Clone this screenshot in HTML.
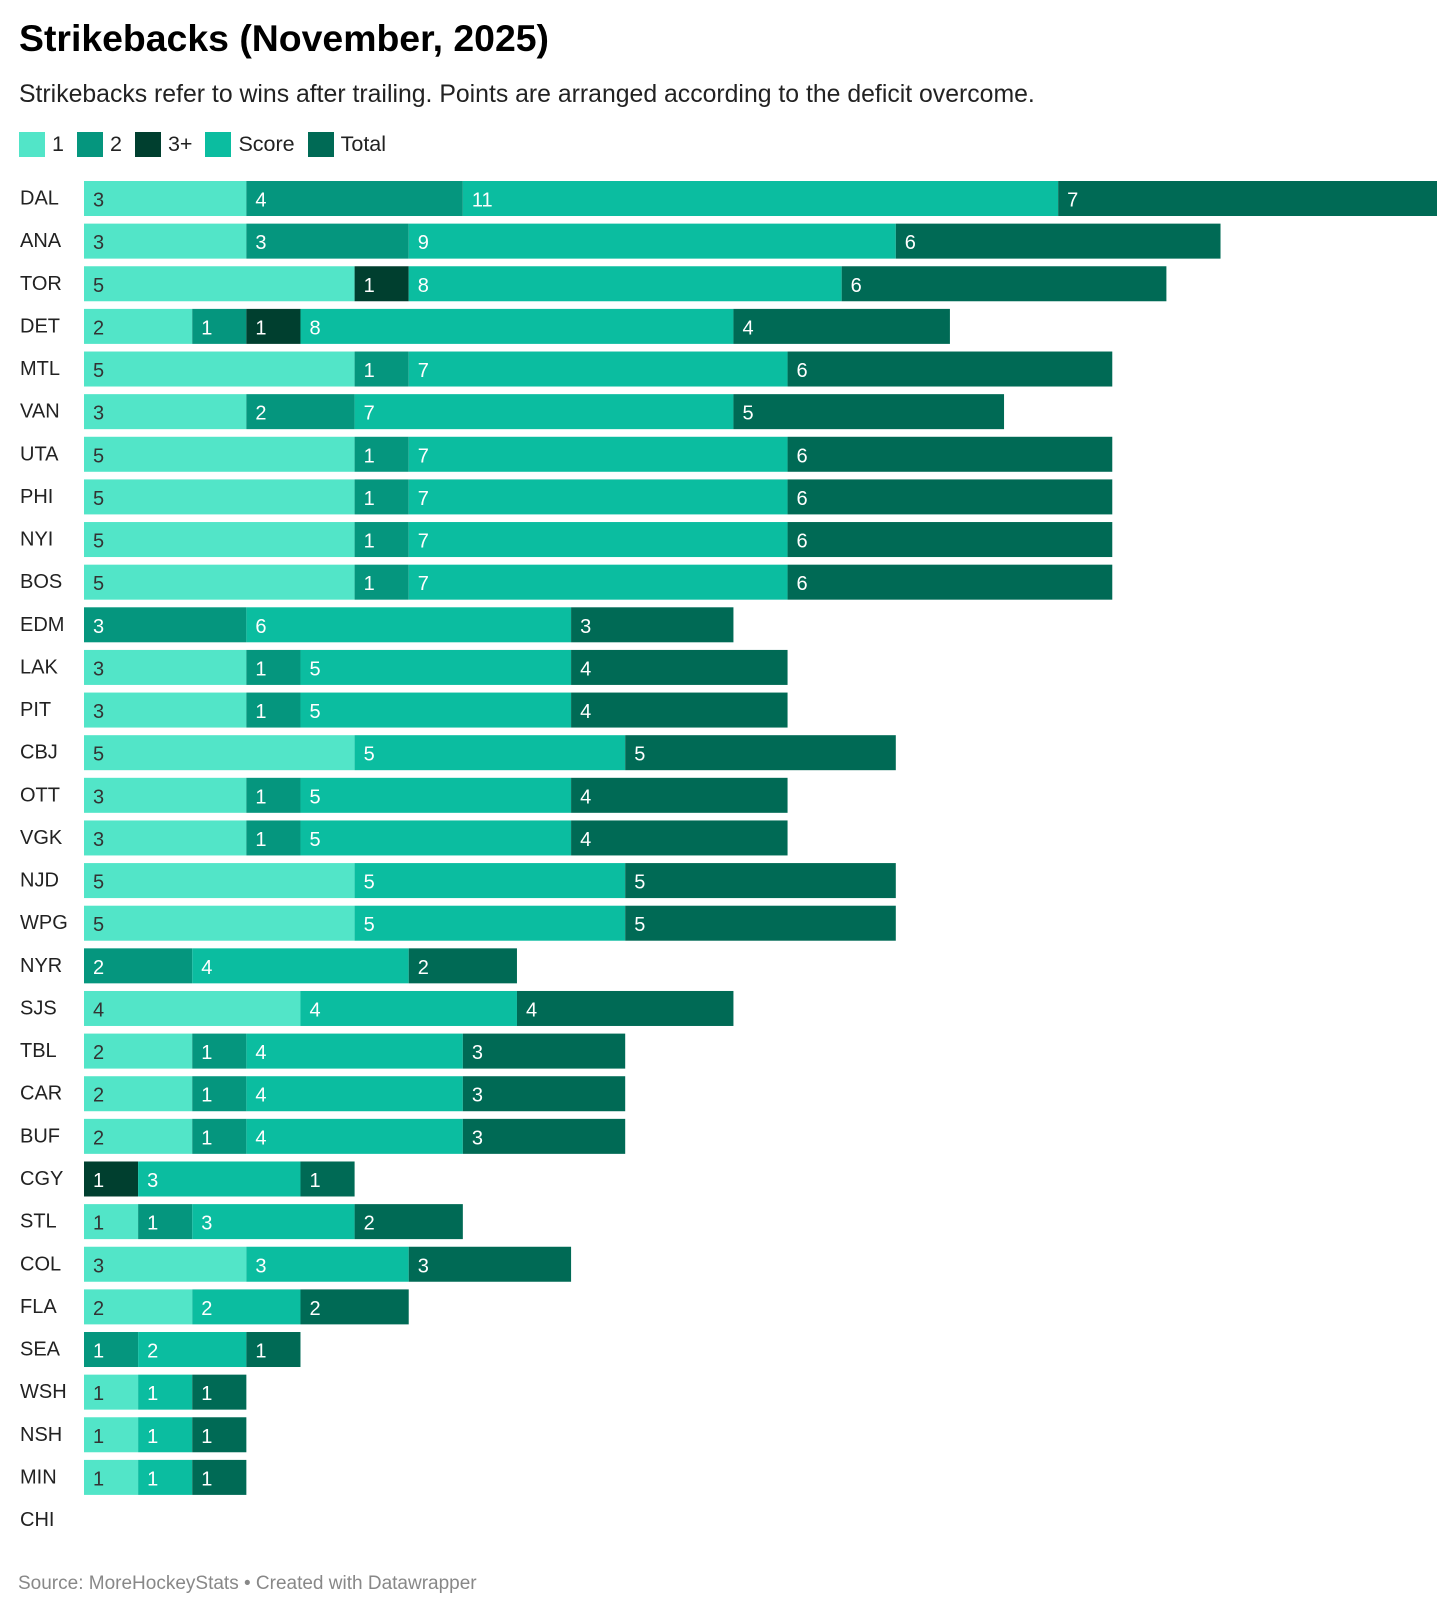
<!DOCTYPE html>
<html><head><meta charset="utf-8">
<style>
body{margin:0;background:#fff;font-family:"Liberation Sans",sans-serif;}
#wrap{position:relative;width:1456px;height:1614px;overflow:hidden;}
.t{position:absolute;white-space:nowrap;}
</style></head><body>
<div id="wrap">
<div class="t" style="left:19px;top:17px;font-size:37.4px;font-weight:bold;color:#000;">Strikebacks (November, 2025)</div>
<div class="t" style="left:19px;top:81px;font-size:24.8px;color:#222;">Strikebacks refer to wins after trailing. Points are arranged according to the deficit overcome.</div>
<div id="legend" style="position:absolute;left:19px;top:131px;height:26px;display:flex;align-items:center;font-size:21.5px;color:#222;"></div>
<svg id="chart" width="1456" height="1560" style="position:absolute;left:0;top:0;"></svg>
<div class="t" style="left:18px;top:1573px;font-size:19px;color:#888;">Source: MoreHockeyStats • Created with Datawrapper</div>
</div>
<script>
const teams=["DAL","ANA","TOR","DET","MTL","VAN","UTA","PHI","NYI","BOS","EDM","LAK","PIT","CBJ","OTT","VGK","NJD","WPG","NYR","SJS","TBL","CAR","BUF","CGY","STL","COL","FLA","SEA","WSH","NSH","MIN","CHI"];
const seriesNames=["1","2","3+","Score","Total"];
const s1=[3,3,5,2,5,3,5,5,5,5,0,3,3,5,3,3,5,5,0,4,2,2,2,0,1,3,2,0,1,1,1,0];
const s2=[4,3,0,1,1,2,1,1,1,1,3,1,1,0,1,1,0,0,2,0,1,1,1,0,1,0,0,1,0,0,0,0];
const s3=[0,0,1,1,0,0,0,0,0,0,0,0,0,0,0,0,0,0,0,0,0,0,0,1,0,0,0,0,0,0,0,0];
const sScore=[11,9,8,8,7,7,7,7,7,7,6,5,5,5,5,5,5,5,4,4,4,4,4,3,3,3,2,2,1,1,1,0];
const sTotal=[7,6,6,4,6,5,6,6,6,6,3,4,4,5,4,4,5,5,2,4,3,3,3,1,2,3,2,1,1,1,1,0];
const colors=["#52e5c8","#05967e","#003f2f","#0bbda0","#006a55"];
const textColors=["#333","#fff","#fff","#fff","#fff"];
const x0=84, unit=54.12, rowTop=181, rowStep=42.63, barH=35;
const xs=v=>v*unit;
const ys=i=>rowTop+i*rowStep;
const NS="http://www.w3.org/2000/svg";
const svg=document.getElementById('chart');
const all=[s1,s2,s3,sScore,sTotal];
teams.forEach((t,i)=>{
  const y=ys(i);
  const lab=document.createElementNS(NS,'text');
  
  
  lab.setAttribute('x',20);lab.setAttribute('y',y+barH/2+6);
  lab.setAttribute('font-size','20');lab.setAttribute('fill','#222');
  lab.setAttribute('font-family','Liberation Sans, sans-serif');
  lab.textContent=t;svg.appendChild(lab);
  let cum=0;
  all.forEach((arr,k)=>{
    const v=arr[i]; if(!v) return;
    const r=document.createElementNS(NS,'rect');
    
    
    r.setAttribute('x',x0+xs(cum));r.setAttribute('y',y);
    r.setAttribute('width',xs(v));r.setAttribute('height',barH);
    r.setAttribute('fill',colors[k]);svg.appendChild(r);
    const tx=document.createElementNS(NS,'text');
    
    
    tx.setAttribute('x',x0+xs(cum)+9);tx.setAttribute('y',y+barH/2+8);
    tx.setAttribute('font-size','20');tx.setAttribute('fill',textColors[k]);
    tx.setAttribute('font-family','Liberation Sans, sans-serif');
    tx.textContent=v;svg.appendChild(tx);
    cum+=v;
  });
});
const leg=document.getElementById('legend');
seriesNames.forEach((n,k)=>{
  const e=document.createElement('div');
  
  
  e.style.cssText='display:flex;align-items:center;margin-right:13px;';
  e.innerHTML='<span style="display:inline-block;width:26px;height:25px;background:'+colors[k]+';margin-right:7px"></span><span>'+n+'</span>';
  leg.appendChild(e);
});
</script>
</body></html>
